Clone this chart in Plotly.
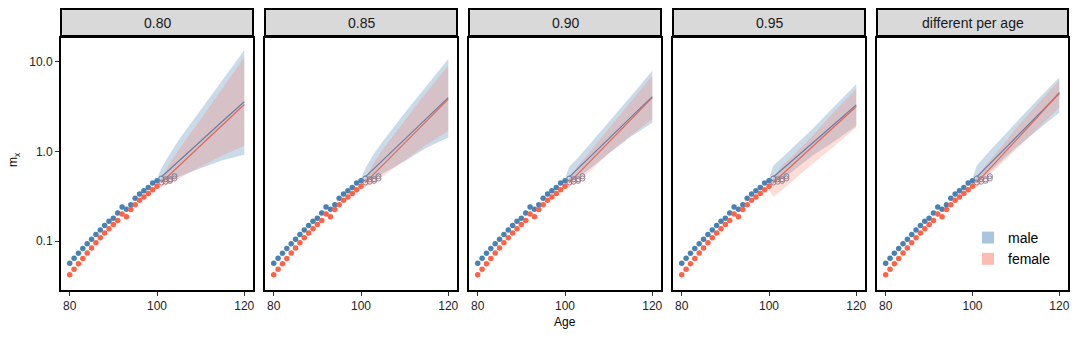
import plotly.graph_objects as go

# ---------------- data ----------------
panels = ["0.80", "0.85", "0.90", "0.95", "different per age"]

obs_ages = list(range(80, 101))
male_obs = [0.0565, 0.0643, 0.073, 0.0826, 0.0933, 0.105, 0.118, 0.133, 0.149, 0.166, 0.180,
            0.205, 0.240, 0.226, 0.255, 0.300, 0.335, 0.365, 0.395, 0.445, 0.470]
female_obs = [0.042, 0.0484, 0.0557, 0.064, 0.0733, 0.0838, 0.0955, 0.1086, 0.123, 0.1374, 0.153,
              0.170, 0.200, 0.187, 0.225, 0.255, 0.285, 0.310, 0.340, 0.375, 0.410]

open_ages = [101, 102, 103, 104]
male_open = [0.50, 0.49, 0.49, 0.53]
female_open = [0.45, 0.46, 0.47, 0.50]

fc_ages = [100, 101, 103, 105, 110, 115, 120]

male_med = [
    [0.47, 0.52, 0.64, 0.78, 1.30, 2.18, 3.60],
    [0.47, 0.52, 0.644, 0.797, 1.37, 2.34, 4.00],
    [0.47, 0.52, 0.648, 0.805, 1.39, 2.38, 4.10],
    [0.47, 0.52, 0.63, 0.77, 1.25, 2.03, 3.32],
    [0.47, 0.52, 0.652, 0.817, 1.45, 2.54, 4.45],
]
female_med = [
    [0.41, 0.45, 0.555, 0.685, 1.16, 1.97, 3.35],
    [0.41, 0.45, 0.564, 0.707, 1.25, 2.18, 3.84],
    [0.41, 0.45, 0.566, 0.713, 1.27, 2.25, 4.00],
    [0.41, 0.45, 0.552, 0.678, 1.13, 1.89, 3.18],
    [0.41, 0.45, 0.57, 0.72, 1.33, 2.44, 4.56],
]
male_hi = [
    [0.50, 0.65, 0.95, 1.35, 2.9, 6.2, 13.5],
    [0.50, 0.65, 0.95, 1.30, 2.7, 5.4, 10.8],
    [0.50, 0.68, 0.85, 1.10, 2.1, 4.1, 8.0],
    [0.50, 0.70, 0.85, 1.05, 1.8, 3.2, 5.65],
    [0.50, 0.70, 0.90, 1.15, 2.1, 3.8, 6.7],
]
male_lo = [
    [0.44, 0.45, 0.48, 0.52, 0.65, 0.80, 0.92],
    [0.44, 0.45, 0.50, 0.56, 0.78, 1.10, 1.43],
    [0.44, 0.45, 0.52, 0.60, 0.95, 1.45, 2.10],
    [0.44, 0.43, 0.50, 0.58, 0.90, 1.30, 1.94],
    [0.44, 0.45, 0.55, 0.66, 1.10, 1.75, 2.73],
]
female_hi = [
    [0.43, 0.50, 0.75, 1.05, 2.3, 5.0, 11.2],
    [0.43, 0.50, 0.75, 1.05, 2.2, 4.6, 9.1],
    [0.43, 0.50, 0.70, 0.90, 1.8, 3.6, 7.0],
    [0.43, 0.50, 0.70, 0.85, 1.5, 2.8, 5.0],
    [0.43, 0.52, 0.70, 0.90, 1.8, 3.4, 6.2],
]
female_lo = [
    [0.39, 0.40, 0.44, 0.50, 0.68, 0.90, 1.16],
    [0.39, 0.40, 0.45, 0.53, 0.80, 1.20, 1.70],
    [0.39, 0.40, 0.47, 0.56, 0.95, 1.50, 2.30],
    [0.37, 0.31, 0.37, 0.45, 0.73, 1.15, 1.85],
    [0.39, 0.40, 0.50, 0.62, 1.05, 1.80, 3.10],
]

x_ticks = [80, 100, 120]
y_ticks = [0.1, 1.0, 10.0]
y_ticklabels = ["0.1", "1.0", "10.0"]

# ---------------- style ----------------
MALE = "#4682B4"
FEMALE = "#FF6347"
MALE_BAND = "rgba(70,130,180,0.29)"
FEMALE_BAND = "rgba(255,99,71,0.22)"
MALE_LINE = "#6A7BA3"
FEMALE_LINE = "#E0685A"

W, H = 1080, 338
L, R, T, B = 61, 12, 38, 48
pw = W - L - R
ph = H - T - B
lefts = [61, 265, 469, 673, 877]
rights = [253, 457, 661, 865, 1068]

fig = go.Figure()
layout = {}
for i in range(5):
    xa = "x" if i == 0 else f"x{i+1}"
    ya = "y" if i == 0 else f"y{i+1}"
    xd = [(lefts[i] - L) / pw, (rights[i] - L) / pw]
    layout["xaxis" if i == 0 else f"xaxis{i+1}"] = dict(
        domain=xd, anchor=ya, range=[78, 122], tickvals=x_ticks,
        ticks="outside", ticklen=4, tickwidth=1, tickcolor="#333",
        showline=True, linecolor="black", linewidth=2, mirror=True,
        showgrid=False, zeroline=False, automargin=False,
        tickfont=dict(size=12, color="#222"),
    )
    layout["yaxis" if i == 0 else f"yaxis{i+1}"] = dict(
        domain=[0, 1], anchor=xa, type="log", range=[-1.547, 1.268],
        tickvals=y_ticks, ticktext=y_ticklabels,
        ticks="outside" if i == 0 else "", ticklen=4, tickcolor="#333",
        showticklabels=(i == 0),
        showline=True, linecolor="black", linewidth=2, mirror=True,
        showgrid=False, zeroline=False, automargin=False,
        tickfont=dict(size=12, color="#222"),
    )

    # bands
    fig.add_trace(go.Scatter(
        x=fc_ages + fc_ages[::-1], y=male_hi[i] + male_lo[i][::-1],
        fill="toself", fillcolor=MALE_BAND, line=dict(width=0),
        mode="lines", hoverinfo="skip", showlegend=False, xaxis=xa, yaxis=ya))
    fig.add_trace(go.Scatter(
        x=fc_ages + fc_ages[::-1], y=female_hi[i] + female_lo[i][::-1],
        fill="toself", fillcolor=FEMALE_BAND, line=dict(width=0),
        mode="lines", hoverinfo="skip", showlegend=False, xaxis=xa, yaxis=ya))
    # median lines
    fig.add_trace(go.Scatter(x=fc_ages[1:], y=male_med[i][1:], mode="lines",
                             line=dict(color=MALE_LINE, width=1.2),
                             showlegend=False, xaxis=xa, yaxis=ya))
    fig.add_trace(go.Scatter(x=fc_ages[1:], y=female_med[i][1:], mode="lines",
                             line=dict(color=FEMALE_LINE, width=1.2),
                             showlegend=False, xaxis=xa, yaxis=ya))
    # observed points
    fig.add_trace(go.Scatter(x=obs_ages, y=male_obs, mode="markers",
                             marker=dict(color=MALE, size=5.5),
                             showlegend=False, xaxis=xa, yaxis=ya))
    fig.add_trace(go.Scatter(x=obs_ages, y=female_obs, mode="markers",
                             marker=dict(color=FEMALE, size=5.5),
                             showlegend=False, xaxis=xa, yaxis=ya))
    # open circles
    fig.add_trace(go.Scatter(x=open_ages, y=male_open, mode="markers",
                             marker=dict(symbol="circle-open", color="#6F7FA0", size=5,
                                         line=dict(width=1)),
                             showlegend=False, xaxis=xa, yaxis=ya))
    fig.add_trace(go.Scatter(x=open_ages, y=female_open, mode="markers",
                             marker=dict(symbol="circle-open", color="#9E7D8C", size=5,
                                         line=dict(width=1)),
                             showlegend=False, xaxis=xa, yaxis=ya))

# legend entries
fig.add_trace(go.Scatter(x=[None], y=[None], mode="markers", name="male",
                         marker=dict(symbol="square", size=15, color="#AAC6DE")))
fig.add_trace(go.Scatter(x=[None], y=[None], mode="markers", name="female",
                         marker=dict(symbol="square", size=15, color="#FCBCAF")))

shapes = []
annotations = []
for i in range(5):
    x0 = (lefts[i] - L) / pw
    x1 = (rights[i] - L) / pw
    y0 = 1 + (T - 36) / ph
    y1 = 1 + (T - 9) / ph
    shapes.append(dict(type="rect", xref="paper", yref="paper", x0=x0, x1=x1,
                       y0=y0, y1=y1, fillcolor="#D9D9D9",
                       line=dict(color="black", width=2), layer="above"))
    annotations.append(dict(text=panels[i], xref="paper", yref="paper",
                            x=(x0 + x1) / 2, y=(y0 + y1) / 2, showarrow=False,
                            xanchor="center", yanchor="middle",
                            font=dict(size=14, color="#1a1a1a")))

annotations.append(dict(text="m<sub>x</sub>", xref="paper", yref="paper",
                        x=(14 - L) / pw, y=1 - (160 - T) / ph, showarrow=False,
                        textangle=-90, xanchor="center", yanchor="middle",
                        font=dict(size=12, color="black")))
annotations.append(dict(text="Age", xref="paper", yref="paper",
                        x=(565 - L) / pw, y=-(322 - (T + ph)) / ph, showarrow=False,
                        xanchor="center", yanchor="middle",
                        font=dict(size=12, color="black")))

fig.update_layout(
    **layout,
    width=W, height=H,
    margin=dict(l=L, r=R, t=T, b=B, autoexpand=False),
    paper_bgcolor="white", plot_bgcolor="white",
    font=dict(family="Liberation Sans, Arial, sans-serif", size=12, color="#333"),
    shapes=shapes, annotations=annotations,
    showlegend=True,
    legend=dict(x=(968 - L) / pw, y=1 - (222 - T) / ph, xanchor="left", yanchor="top",
                bgcolor="rgba(0,0,0,0)", font=dict(size=14, color="black"),
                itemsizing="constant", tracegroupgap=0),
)

fig.write_html("out.html", config={"displayModeBar": False},
               post_script="document.body.style.margin='0';")
